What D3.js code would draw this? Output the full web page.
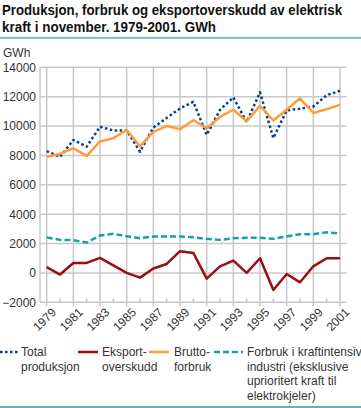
<!DOCTYPE html>
<html>
<head>
<meta charset="utf-8">
<script src="https://cdn.jsdelivr.net/npm/d3@7"></script>
<style>
  body { margin: 0; background: #fff; }
  svg { font-family: "Liberation Sans", Arial, sans-serif; }
</style>
</head>
<body>
<div class="canvas"></div>
<script>
// Data
const years = d3.range(1979, 2002);
const yearLabels = [1979, 1981, 1983, 1985, 1987, 1989, 1991, 1993, 1995, 1997, 1999, 2001];
const yTicks = [-2000, 0, 2000, 4000, 6000, 8000, 10000, 12000, 14000];

const totalProduksjon = [8300, 7900, 9050, 8600, 9950, 9700, 9700, 8250, 9900, 10550, 11200,
  11650, 9400, 11100, 11950, 10270, 12300, 9180, 11070, 11180, 11330, 12100, 12400];
const eksportOverskudd = [390, -110, 680, 680, 1020, 520, 0, -320, 300, 610, 1480,
  1360, -390, 450, 840, 0, 1000, -1160, -70, -640, 450, 1000, 1000];
const bruttoForbruk = [7900, 8110, 8490, 7970, 8950, 9180, 9730, 8620, 9600, 10000, 9780,
  10400, 9850, 10620, 11110, 10330, 11380, 10380, 11110, 11890, 10890, 11150, 11440];
const kraftintensiv = [2410, 2250, 2230, 2070, 2550, 2660, 2500, 2360, 2480, 2480, 2480,
  2430, 2320, 2250, 2360, 2390, 2390, 2320, 2480, 2640, 2640, 2770, 2680];

const series = [
  {name: 'total', values: totalProduksjon, color: '#0b3a96', dash: '2.5,2.5', width: 2.5},
  {name: 'brutto', values: bruttoForbruk, color: '#ff9c3a', dash: null, width: 2.5},
  {name: 'kraft', values: kraftintensiv, color: '#16a3a0', dash: '6,3', width: 2.5},
  {name: 'eksport', values: eksportOverskudd, color: '#9a0f10', dash: null, width: 2.5}
];

// Graph set up
const svgWidth = 361;
const svgHeight = 408;
const margin = {top: 67.3, left: 40, right: 14.3, bottom: 105.7};
const graphWidth = svgWidth - margin.left - margin.right;
const graphHeight = svgHeight - margin.top - margin.bottom;

const svg = d3.select('.canvas')
  .append('svg')
  .attr('width', svgWidth)
  .attr('height', svgHeight);

// Title
const titleLines = [
  {text: 'Produksjon, forbruk og eksportoverskudd av elektrisk', y: 14.5, len: 340},
  {text: 'kraft i november. 1979-2001. GWh', y: 31.5, len: 214}
];
svg.append('g')
  .selectAll('text')
  .data(titleLines)
  .join('text')
  .attr('x', 2)
  .attr('y', d => d.y)
  .attr('font-size', 14)
  .attr('font-weight', 'bold')
  .attr('fill', '#111')
  .attr('textLength', d => d.len)
  .attr('lengthAdjust', 'spacingAndGlyphs')
  .text(d => d.text);

svg.append('line')
  .attr('x1', 0).attr('x2', svgWidth)
  .attr('y1', 38).attr('y2', 38)
  .attr('stroke', '#6ccbc6').attr('stroke-width', 2);

svg.append('line')
  .attr('x1', 0).attr('x2', svgWidth)
  .attr('y1', 407).attr('y2', 407)
  .attr('stroke', '#2a9d98').attr('stroke-width', 1.5);

svg.append('text')
  .attr('x', 3).attr('y', 57)
  .attr('font-size', 12)
  .attr('fill', '#333')
  .text('GWh');

const graph = svg.append('g')
  .attr('transform', `translate(${margin.left},${margin.top})`);

// Scales
const x = d3.scaleLinear().domain([1979, 2001]).range([6.7, 300]);
const y = d3.scaleLinear().domain([-2000, 14000]).range([graphHeight, 0]);

// Horizontal grid
graph.append('g')
  .selectAll('line')
  .data(yTicks)
  .join('line')
  .attr('x1', 0).attr('x2', 306.7)
  .attr('y1', d => y(d)).attr('y2', d => y(d))
  .attr('stroke', '#c8c8c8').attr('stroke-width', 1.5);

// Vertical grid (odd years)
graph.append('g')
  .selectAll('line')
  .data(yearLabels)
  .join('line')
  .attr('x1', d => x(d)).attr('x2', d => x(d))
  .attr('y1', 0).attr('y2', graphHeight + 4)
  .attr('stroke', '#c8c8c8').attr('stroke-width', 1.5);

// Short ticks at even years
graph.append('g')
  .selectAll('line')
  .data(years.filter(d => d % 2 === 0))
  .join('line')
  .attr('x1', d => x(d)).attr('x2', d => x(d))
  .attr('y1', graphHeight - 4).attr('y2', graphHeight)
  .attr('stroke', '#c8c8c8').attr('stroke-width', 1.5);

// Y axis line
graph.append('line')
  .attr('x1', 0).attr('x2', 0)
  .attr('y1', 0).attr('y2', graphHeight)
  .attr('stroke', '#c8c8c8').attr('stroke-width', 1.5);

// Y axis labels
const yAxis = d3.axisLeft(y).tickValues(yTicks).tickFormat(d3.format('d')).tickSize(0).tickPadding(4);
const yAxisGroup = graph.append('g').call(yAxis);
yAxisGroup.select('.domain').remove();
yAxisGroup.selectAll('text')
  .attr('font-size', 12)
  .attr('font-family', '"Liberation Sans", Arial, sans-serif')
  .attr('fill', '#333');

// X axis labels
const xAxis = d3.axisBottom(x).tickValues(yearLabels).tickFormat(d3.format('d')).tickSize(0);
const xAxisGroup = graph.append('g')
  .attr('transform', `translate(0,${graphHeight})`)
  .call(xAxis);
xAxisGroup.select('.domain').remove();
xAxisGroup.selectAll('text')
  .attr('font-size', 12)
  .attr('font-family', '"Liberation Sans", Arial, sans-serif')
  .attr('fill', '#333')
  .attr('text-anchor', 'end')
  .attr('dx', '0.3em')
  .attr('dy', '0.6em')
  .attr('transform', 'translate(0,6) rotate(-45)');

// Lines
const line = d3.line()
  .x((d, i) => x(years[i]))
  .y(d => y(d));

graph.selectAll('path.series')
  .data(series)
  .join('path')
  .attr('class', 'series')
  .attr('fill', 'none')
  .attr('stroke', d => d.color)
  .attr('stroke-width', d => d.width)
  .attr('stroke-dasharray', d => d.dash)
  .attr('stroke-linejoin', 'round')
  .attr('d', d => line(d.values));

// Legend
const legendItems = [
  {color: '#0b3a96', dash: '2.5,2.5', x0: 0, x1: 20, tx: 21, lines: ['Total', 'produksjon']},
  {color: '#9a0f10', dash: null, x0: 78, x1: 98, tx: 102, lines: ['Eksport-', 'overskudd']},
  {color: '#ff9c3a', dash: null, x0: 149, x1: 169, tx: 174, lines: ['Brutto-', 'forbruk']},
  {color: '#16a3a0', dash: '6,3', x0: 214, x1: 243, tx: 247,
    lines: ['Forbruk i kraftintensiv', 'industri (eksklusive', 'uprioritert kraft til', 'elektrokjeler)']}
];

const legend = svg.append('g');
legendItems.forEach(item => {
  legend.append('line')
    .attr('x1', item.x0).attr('x2', item.x1)
    .attr('y1', 352).attr('y2', 352)
    .attr('stroke', item.color)
    .attr('stroke-width', 2.5)
    .attr('stroke-dasharray', item.dash);
  const t = legend.append('text')
    .attr('font-size', 12)
    .attr('fill', '#333');
  item.lines.forEach((s, i) => {
    t.append('tspan').attr('x', item.tx).attr('y', 356 + i * 14.6).text(s);
  });
});
</script>
</body>
</html>
